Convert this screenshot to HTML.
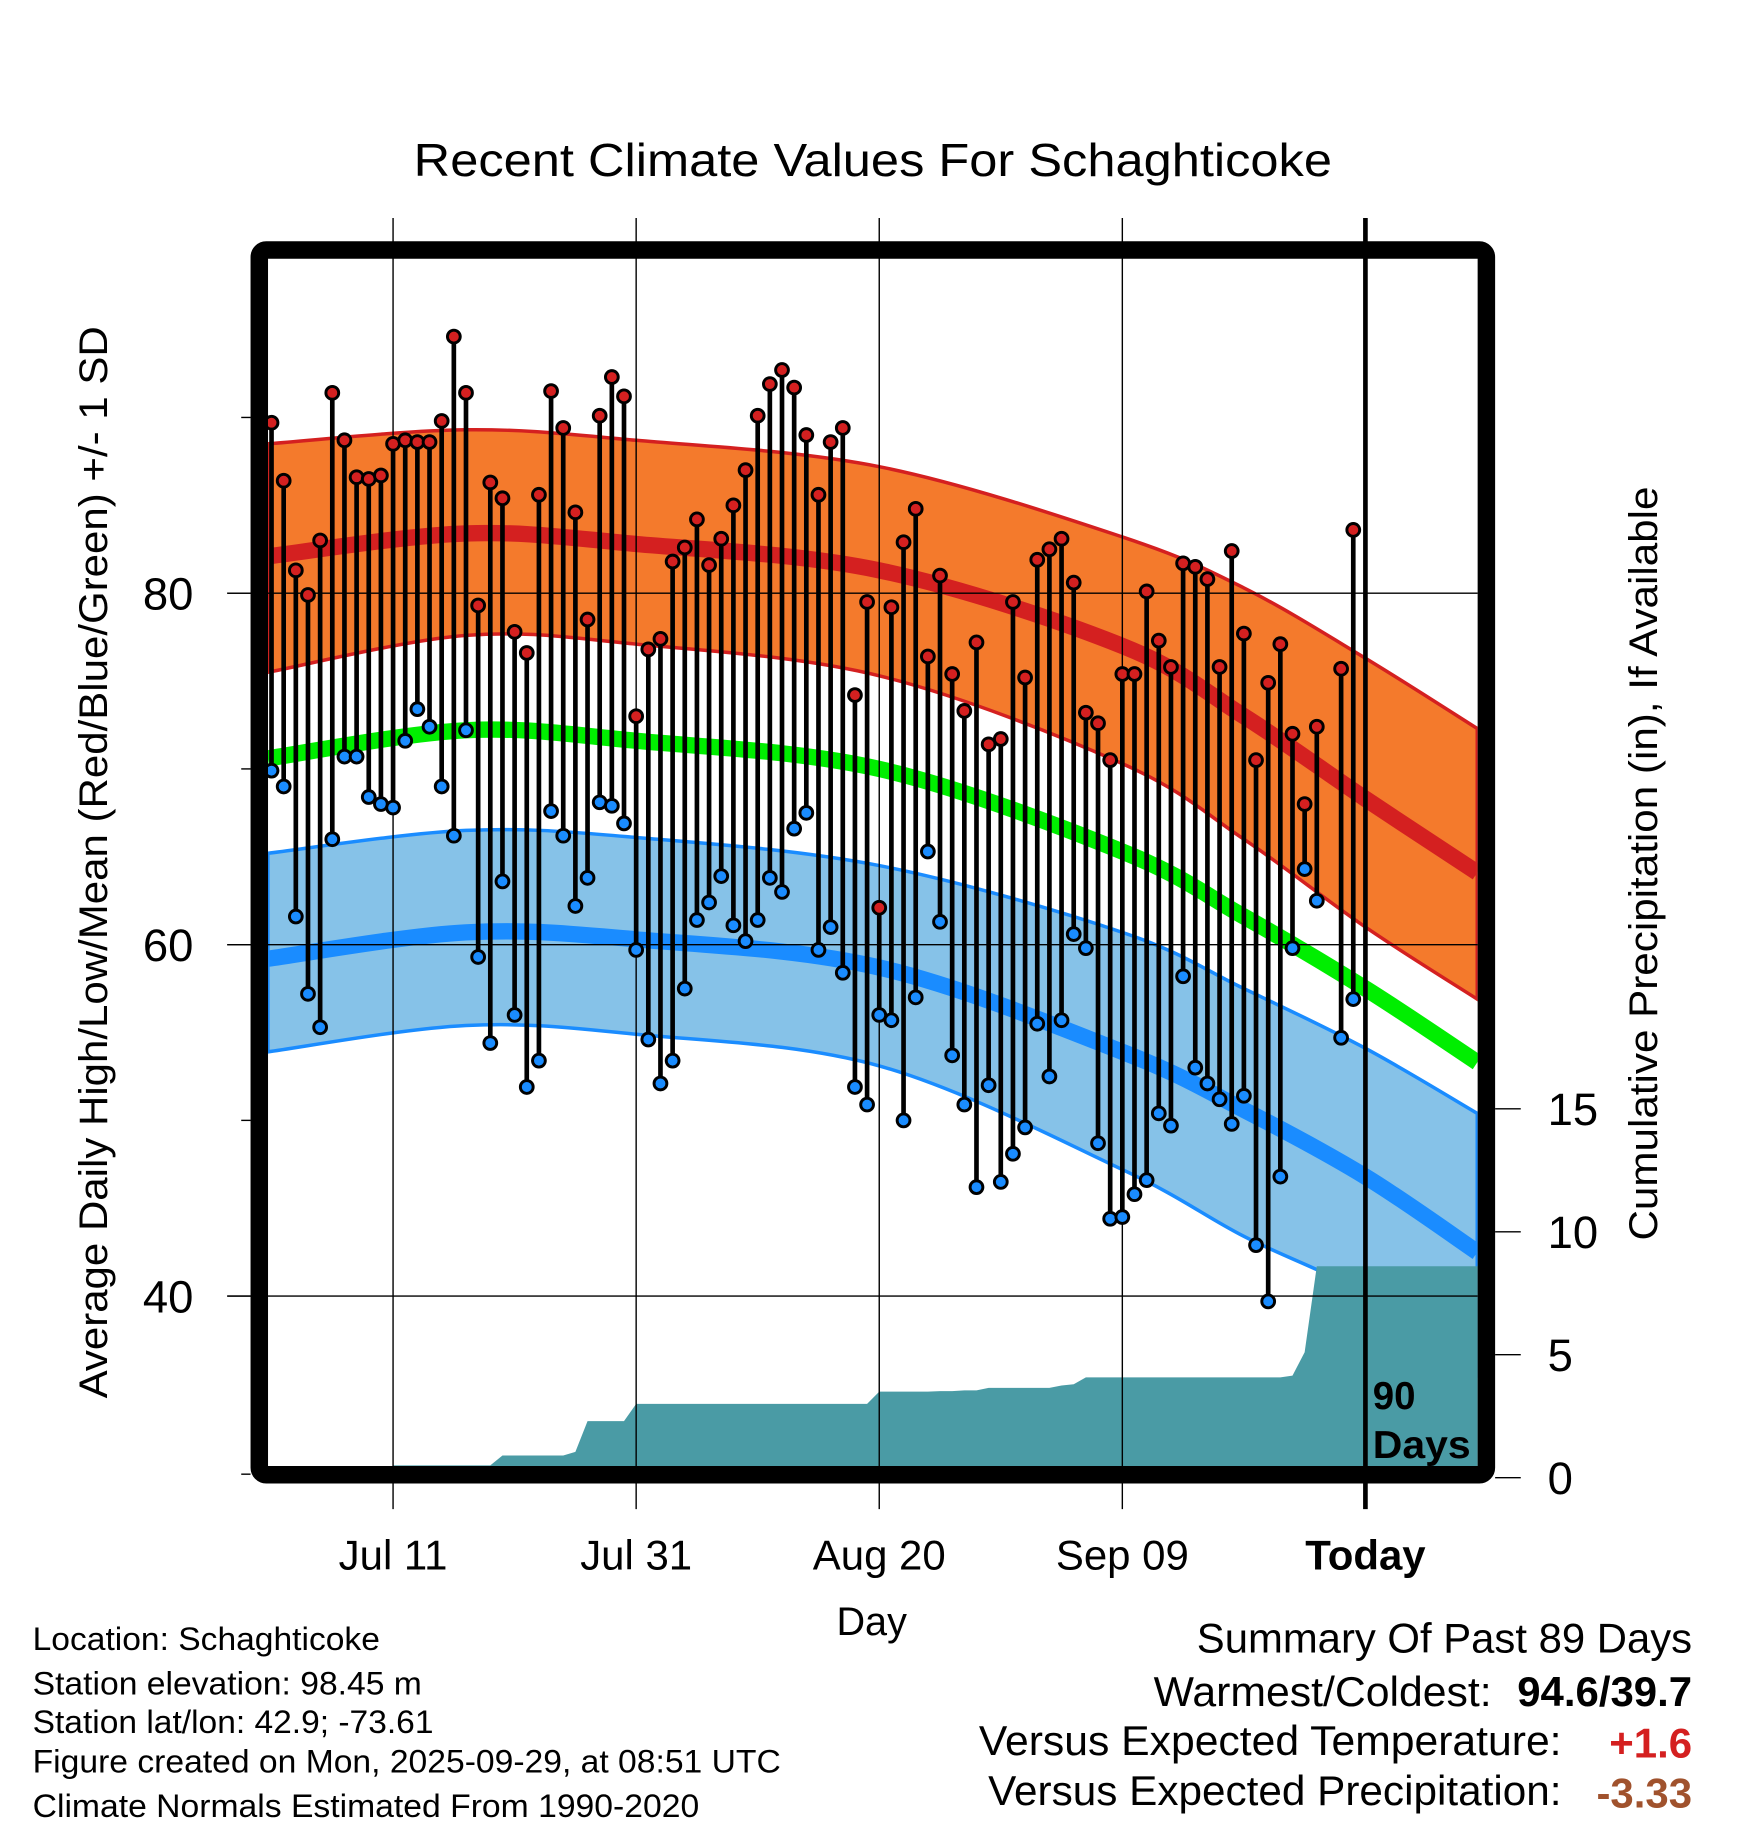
<!DOCTYPE html>
<html><head><meta charset="utf-8"><style>html,body{margin:0;padding:0;background:#fff}svg{display:block}text{font-family:"Liberation Sans",sans-serif}</style></head>
<body>
<svg id="chart" xmlns="http://www.w3.org/2000/svg" width="1748" height="1828" viewBox="0 0 1500 1568.6">
<defs><clipPath id="plotclip"><rect x="230" y="222" width="1038" height="1037"/></clipPath></defs>
<g id="bands" clip-path="url(#plotclip)"></g>
<g id="grid"></g>
<g id="marks" clip-path="url(#plotclip)"></g>
<rect x="222.5" y="214.5" width="1053" height="1051" rx="6" fill="none" stroke="#000" stroke-width="15"/>
<g id="axes"></g>
<text x="749" y="151" font-size="40" text-anchor="middle" textLength="788" lengthAdjust="spacingAndGlyphs">Recent Climate Values For Schaghticoke</text>
<text transform="translate(92,740) rotate(-90)" font-size="34" text-anchor="middle" textLength="920" lengthAdjust="spacingAndGlyphs">Average Daily High/Low/Mean (Red/Blue/Green) +/- 1 SD</text>
<text transform="translate(1422,741) rotate(-90)" font-size="34" text-anchor="middle" textLength="647" lengthAdjust="spacingAndGlyphs">Cumulative Precipitation (in), If Available</text>
<text x="748" y="1403" font-size="34" text-anchor="middle">Day</text>
<text x="1178" y="1209" font-size="33" font-weight="bold">90</text>
<text x="1178" y="1251" font-size="33" font-weight="bold" textLength="84" lengthAdjust="spacingAndGlyphs">Days</text>
<g font-size="28">
<text x="28" y="1416" textLength="298" lengthAdjust="spacingAndGlyphs">Location: Schaghticoke</text>
<text x="28" y="1454" textLength="334" lengthAdjust="spacingAndGlyphs">Station elevation: 98.45 m</text>
<text x="28" y="1487" textLength="344" lengthAdjust="spacingAndGlyphs">Station lat/lon: 42.9; -73.61</text>
<text x="28" y="1521" textLength="642" lengthAdjust="spacingAndGlyphs">Figure created on Mon, 2025-09-29, at 08:51 UTC</text>
<text x="28" y="1559" textLength="572" lengthAdjust="spacingAndGlyphs">Climate Normals Estimated From 1990-2020</text>
</g>
<g font-size="36">
<text x="1452" y="1418" text-anchor="end" textLength="425" lengthAdjust="spacingAndGlyphs">Summary Of Past 89 Days</text>
<text x="1280" y="1464" text-anchor="end" textLength="290" lengthAdjust="spacingAndGlyphs">Warmest/Coldest:</text>
<text x="1452" y="1464" text-anchor="end" font-weight="bold" textLength="150" lengthAdjust="spacingAndGlyphs">94.6/39.7</text>
<text x="1340" y="1506" text-anchor="end" textLength="500" lengthAdjust="spacingAndGlyphs">Versus Expected Temperature:</text>
<text x="1452" y="1508" text-anchor="end" font-weight="bold" fill="#d42020">+1.6</text>
<text x="1340" y="1549" text-anchor="end" textLength="492" lengthAdjust="spacingAndGlyphs">Versus Expected Precipitation:</text>
<text x="1452" y="1551" text-anchor="end" font-weight="bold" fill="#a0522d">-3.33</text>
</g>
</svg>
<script>
const highs=[89.7,86.4,81.3,79.9,83.0,91.4,88.7,86.6,86.5,86.7,88.5,88.7,88.6,88.6,89.8,94.6,91.4,79.3,86.3,85.4,77.8,76.6,85.6,91.5,89.4,84.6,78.5,90.1,92.3,91.2,73.0,76.8,77.4,81.8,82.6,84.2,81.6,83.1,85.0,87.0,90.1,91.9,92.7,91.7,89.0,85.6,88.6,89.4,74.2,79.5,62.1,79.2,82.9,84.8,76.4,81.0,75.4,73.3,77.2,71.4,71.7,79.5,75.2,81.9,82.5,83.1,80.6,73.2,72.6,70.5,75.4,75.4,80.1,77.3,75.8,81.7,81.5,80.8,75.8,82.4,77.7,70.5,74.9,77.1,72.0,68.0,72.4,null,75.7,83.6];
const lows=[69.9,69.0,61.6,57.2,55.3,66.0,70.7,70.7,68.4,68.0,67.8,71.6,73.4,72.4,69.0,66.2,72.2,59.3,54.4,63.6,56.0,51.9,53.4,67.6,66.2,62.2,63.8,68.1,67.9,66.9,59.7,54.6,52.1,53.4,57.5,61.4,62.4,63.9,61.1,60.2,61.4,63.8,63.0,66.6,67.5,59.7,61.0,58.4,51.9,50.9,56.0,55.7,50.0,57.0,65.3,61.3,53.7,50.9,46.2,52.0,46.5,48.1,49.6,55.5,52.5,55.7,60.6,59.8,48.7,44.4,44.5,45.8,46.6,50.4,49.7,58.2,53.0,52.1,51.2,49.8,51.4,42.9,39.7,46.8,59.8,64.3,62.5,null,54.7,56.9];
const precipCum=[0,0,0,0,0,0,0,0,0,0,0.5,0.5,0.5,0.5,0.5,0.5,0.5,0.5,0.5,0.9,0.9,0.9,0.9,0.9,0.9,1.05,2.3,2.3,2.3,2.3,3.0,3.0,3.0,3.0,3.0,3.0,3.0,3.0,3.0,3.0,3.0,3.0,3.0,3.0,3.0,3.0,3.0,3.0,3.0,3.0,3.5,3.5,3.5,3.5,3.5,3.52,3.52,3.55,3.55,3.65,3.65,3.65,3.65,3.65,3.65,3.75,3.8,4.08,4.08,4.08,4.08,4.08,4.08,4.08,4.08,4.08,4.08,4.08,4.08,4.08,4.08,4.08,4.08,4.08,4.15,5.1,8.6,8.6,8.6,8.6];
const normDays=[-0.3,16,30,50,70,80,90,99.2];
const normHigh=[82.1,83.4,82.8,81.3,77.0,73.0,68.3,64.1];
const normHighUp=[88.5,89.3,88.7,87.2,83.2,80.3,76.3,72.3];
const normHighLo=[75.5,77.6,77.1,75.3,70.3,66.0,61.0,56.9];
const normMean=[70.6,72.2,71.6,70.0,65.3,61.6,57.5,53.3];
const normLow=[59.2,60.7,60.3,58.7,53.9,50.6,46.8,42.5];
const normLowUp=[65.2,66.5,66.1,64.5,60.7,57.5,54.1,50.4];
const normLowLo=[53.9,55.4,54.9,53.1,47.2,43.4,40.1,35.5];
const xTickDays=[10,30,50,70,90];
const xTickLabels=["Jul 11","Jul 31","Aug 20","Sep 09","Today"];
const yTicks=[30,40,50,60,70,80,90];
const yLabels=[40,60,80];
const pTicks=[0,5,10,15];

const NS="http://www.w3.org/2000/svg";
const X=d=>233+10.43*d;
const Y=t=>509-(t-80)*15.08;
const P=p=>1268-p*21.1;
function mk(tag,attrs,parent){const e=document.createElementNS(NS,tag);for(const k in attrs)e.setAttribute(k,attrs[k]);parent.appendChild(e);return e;}
function pts(arr){return normDays.map((d,i)=>[X(d),Y(arr[i])]);}
function smooth(p){let s="M"+p[0][0]+","+p[0][1];for(let i=0;i<p.length-1;i++){const p0=p[i-1]||p[i],p1=p[i],p2=p[i+1],p3=p[i+2]||p2;s+=" C"+(p1[0]+(p2[0]-p0[0])/6)+","+(p1[1]+(p2[1]-p0[1])/6)+" "+(p2[0]-(p3[0]-p1[0])/6)+","+(p2[1]-(p3[1]-p1[1])/6)+" "+p2[0]+","+p2[1];}return s;}
function band(up,lo){const a=smooth(pts(up));const b=smooth(pts(lo).reverse());return a+" L"+b.slice(1)+" Z";}
const bands=document.getElementById('bands');
let e;
e=mk('path',{d:band(normHighUp,normHighLo),fill:'#f47a2c',stroke:'#d42020','stroke-width':3},bands);


e=mk('path',{d:band(normLowUp,normLowLo),fill:'#86c2e8',stroke:'#1a8cff','stroke-width':3},bands);


e=mk('path',{d:smooth(pts(normHigh)),fill:'none',stroke:'#d42020','stroke-width':14},bands);


e=mk('path',{d:smooth(pts(normMean)),fill:'none',stroke:'#00ee00','stroke-width':14},bands);


e=mk('path',{d:smooth(pts(normLow)),fill:'none',stroke:'#1a8cff','stroke-width':14},bands);


let pd="M"+X(0)+","+P(0);
precipCum.forEach((v,i)=>{pd+=" L"+X(i)+","+P(v);});
pd+=" L1270,"+P(precipCum[precipCum.length-1])+" L1270,"+P(0)+" Z";
e=mk('path',{d:pd,fill:'#4a9ba5'},bands);



const grid=document.getElementById('grid');
xTickDays.forEach((d,i)=>{
  const x=X(d);
  e=mk('line',{x1:x,x2:x,y1:187,y2:1295,stroke:'#000','stroke-width':i==4?4:1.2},grid);
  
  
});
yLabels.forEach(t=>{
  e=mk('line',{x1:195,x2:1268,y1:Y(t),y2:Y(t),stroke:'#000','stroke-width':1.2},grid);
  
  
});

const marks=document.getElementById('marks');
highs.forEach((h,i)=>{
  const l=lows[i]; if(h==null||l==null) return;
  e=mk('line',{x1:X(i),x2:X(i),y1:Y(h),y2:Y(l),stroke:'#000','stroke-width':4},marks);
  
  
});
highs.forEach((h,i)=>{
  const l=lows[i]; if(h==null||l==null) return;
  e=mk('circle',{cx:X(i),cy:Y(h),r:5.5,fill:'#d42020',stroke:'#000','stroke-width':2.5},marks);
  
  
  e=mk('circle',{cx:X(i),cy:Y(l),r:5.5,fill:'#1a8cff',stroke:'#000','stroke-width':2.5},marks);
  
  
});

const axes=document.getElementById('axes');
yTicks.forEach(t=>{
  const y=t==30?1265:Y(t);
  e=mk('line',{x1:t%20==0?195:207,x2:215,y1:y,y2:y,stroke:'#000','stroke-width':1.2},axes);
  
  
});
yLabels.forEach(t=>{
  e=mk('text',{x:166,y:Y(t)+14,'font-size':39,'text-anchor':'end'},axes);
  e.textContent=t;
  
  
});
pTicks.forEach(p=>{
  e=mk('text',{x:1328,y:P(p)+14,'font-size':39},axes);
  e.textContent=p;
  
  
});
pTicks.forEach(p=>{
  e=mk('line',{x1:1283,x2:1305,y1:P(p),y2:P(p),stroke:'#000','stroke-width':1.2},axes);
  
  
});
xTickDays.forEach((d,i)=>{
  e=mk('text',{x:X(d),y:1347,'font-size':36,'text-anchor':'middle','font-weight':i==4?'bold':'normal'},axes);
  e.textContent=xTickLabels[i];
  
  
});
</script>
</body></html>
